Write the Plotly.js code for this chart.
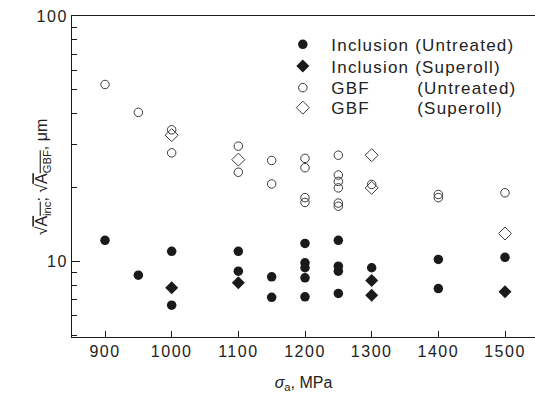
<!DOCTYPE html>
<html>
<head>
<meta charset="utf-8">
<script src="https://cdn.plot.ly/plotly-3.0.1.min.js"></script>
<style>
html,body{margin:0;padding:0;background:#fff;}
#chart{width:535px;height:396px;}
.xtick text, .ytick text {letter-spacing:1.5px;}
.legendtext, .infolayer [class*="legend"] text {letter-spacing:1.2px;}
</style>
</head>
<body>
<div id="chart"></div>
<script>
// Stress amplitude (MPa) and crack-origin sizes (um)
const inclUntreatedX = [900, 950, 1000, 1000, 1100, 1100, 1150, 1150, 1200, 1200, 1200, 1200, 1200, 1250, 1250, 1250, 1250, 1300, 1400, 1400, 1500];
const inclUntreatedY = [12.2, 8.8, 11.0, 6.64, 11.0, 9.13, 8.66, 7.15, 11.85, 9.88, 9.43, 8.58, 7.18, 12.2, 9.57, 9.13, 7.41, 9.43, 10.2, 7.76, 10.4];

const inclSuperrollX = [1000, 1100, 1300, 1300, 1500];
const inclSuperrollY = [7.81, 8.19, 8.37, 7.29, 7.53];

const gbfUntreatedX = [900, 950, 1000, 1000, 1100, 1100, 1150, 1150, 1200, 1200, 1200, 1200, 1250, 1250, 1250, 1250, 1250, 1250, 1300, 1400, 1400, 1500];
const gbfUntreatedY = [52.6, 40.5, 34.4, 27.7, 29.5, 23.1, 25.8, 20.7, 26.3, 24.1, 18.2, 17.4, 27.1, 22.5, 21.2, 19.95, 17.3, 16.8, 20.6, 18.75, 18.2, 19.05];

const gbfSuperrollX = [1000, 1100, 1300, 1300, 1500];
const gbfSuperrollY = [32.7, 26.0, 27.1, 19.95, 13.0];

const NB = '\u00a0';
const seriesNames = [
  'Inclusion (Untreated)',
  'Inclusion (Superoll)',
  'GBF' + NB.repeat(8) + '(Untreated)',
  'GBF' + NB.repeat(8) + '(Superoll)'
];

const xTickVals = [900, 1000, 1100, 1200, 1300, 1400, 1500];
const yTickVals = [10, 100];
const yTickText = ['10', '100'];
const yMinorVals = [5, 6, 7, 8, 9, 20, 30, 40, 50, 60, 70, 80, 90];

const xTitle = '<i>σ</i><sub>a</sub>, MPa';
const yTitle = '√<span style="text-decoration:overline">A<sub>inc</sub></span>; √<span style="text-decoration:overline">A<sub>GBF</sub></span>, μm';

const ink = '#1a1a1a';
const openInk = '#3a3a3a';

const traces = [
  {x: inclUntreatedX, y: inclUntreatedY, name: seriesNames[0], type: 'scatter', mode: 'markers', legend: 'legend',
   marker: {symbol: 'circle', size: 9.5, color: ink}},
  {x: inclSuperrollX, y: inclSuperrollY, name: seriesNames[1], type: 'scatter', mode: 'markers', legend: 'legend2',
   marker: {symbol: 'diamond', size: 10, color: ink}},
  {x: gbfUntreatedX, y: gbfUntreatedY, name: seriesNames[2], type: 'scatter', mode: 'markers', legend: 'legend3',
   marker: {symbol: 'circle-open', size: 8.5, color: openInk, line: {width: 1, color: openInk}}},
  {x: gbfSuperrollX, y: gbfSuperrollY, name: seriesNames[3], type: 'scatter', mode: 'markers', legend: 'legend4',
   marker: {symbol: 'diamond-open', size: 10, color: openInk, line: {width: 1, color: openInk}}}
];

const baseFont = {family: 'Liberation Sans, Arial, sans-serif', color: '#222'};

function legendAt(yTop) {
  return {
    orientation: 'h', entrywidth: 188, entrywidthmode: 'pixels',
    x: 0.437, xanchor: 'left', y: yTop, yanchor: 'top',
    bgcolor: 'rgba(0,0,0,0)', borderwidth: 0, itemwidth: 47,
    font: {family: 'Liberation Sans, Arial, sans-serif', color: '#222', size: 17}
  };
}

const layout = {
  width: 535, height: 396,
  margin: {l: 72, r: 0, t: 16, b: 59, pad: 0},
  paper_bgcolor: '#fff', plot_bgcolor: '#fff',
  font: {family: 'Liberation Sans, Arial, sans-serif', color: '#222', size: 17},
  showlegend: true,
  legend: legendAt(0.9664),
  legend2: legendAt(0.8988),
  legend3: legendAt(0.8315),
  legend4: legendAt(0.7692),
  xaxis: {
    range: [850.5, 1545], tickvals: xTickVals, ticks: 'inside', ticklen: 6, tickwidth: 1, tickcolor: ink,
    showline: true, linecolor: ink, linewidth: 1, mirror: true, showgrid: false, zeroline: false,
    tickfont: Object.assign({}, baseFont, {size: 16}),
    title: {text: xTitle, font: Object.assign({}, baseFont, {size: 16}), standoff: 17}
  },
  yaxis: {
    type: 'log', range: [0.6925, 2.0], tickvals: yTickVals, ticktext: yTickText,
    ticks: 'inside', ticklen: 8, tickwidth: 1, tickcolor: ink,
    minor: {tickvals: yMinorVals, ticks: 'inside', ticklen: 5, tickwidth: 1, tickcolor: ink, showgrid: false},
    showline: true, linecolor: ink, linewidth: 1, mirror: false, showgrid: false, zeroline: false,
    tickfont: Object.assign({}, baseFont, {size: 16})
  },
  annotations: [{
    text: yTitle, textangle: -90, showarrow: false,
    xref: 'paper', yref: 'paper', x: -0.063, y: 0.5, xanchor: 'center', yanchor: 'middle',
    font: Object.assign({}, baseFont, {size: 16})
  }]
};

Plotly.newPlot('chart', traces, layout, {displayModeBar: false, staticPlot: true});
</script>
</body>
</html>
